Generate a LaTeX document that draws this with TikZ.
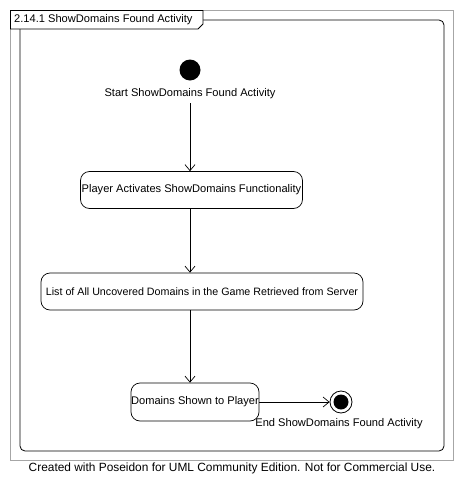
\documentclass[tikz,border=0pt]{standalone}
\usepackage{fontspec}
\setmainfont{Liberation Sans}
\usetikzlibrary{arrows.meta}
\begin{document}
\begin{tikzpicture}[x=1pt,y=-1pt,
  every node/.style={font=\fontsize{11.1}{13}\selectfont, inner sep=0pt},
  act/.style={draw, rounded corners=9pt, line width=0.7pt, minimum height=37pt, align=center, fill=white},
  flow/.style={line width=0.7pt, -{Straight Barb[length=6pt,width=10pt,line width=0.7pt]}},
  grayline/.style={draw=gray!70, line width=0.8pt}]
\useasboundingbox (0,0) rectangle (465,493);
% outer gray frame
\draw[grayline] (10.5,10.5) rectangle (453,460.5);
% inner rounded frame
\draw[line width=0.8pt, rounded corners=5pt] (20,20) rectangle (444,451);
% tab
\draw[line width=0.8pt, fill=white] (10.5,10.5) -- (203,10.5) -- (203,24) -- (198,29) -- (10.5,29) -- cycle;
\node[anchor=west] (title) at (14,19.5) {2.14.1 ShowDomains Found Activity};
% start
\node[circle, fill=black, minimum size=21pt] (start) at (190,70) {};
\node (startlbl) at (190,94) {Start ShowDomains Found Activity};
% activities
\node[act, minimum width=222pt] (a1) at (191.5,190) {Player Activates ShowDomains Functionality};
\node[act, minimum width=322pt, font=\fontsize{10.7}{12}\selectfont] (a2) at (202,291.5) {List of All Uncovered Domains in the Game Retrieved from Server};
\node[act, minimum width=128pt, minimum height=38pt] (a3) at (195,402) {Domains Shown to Player};
% end
\node[circle, draw, line width=0.8pt, minimum size=22pt] (end) at (341,402) {};
\node[circle, fill=black, minimum size=15pt] (endin) at (end.center) {};
\node (endlbl) at (339,423.5) {End ShowDomains Found Activity};
% flows
\coordinate (cx) at (190,0);
\coordinate (s1) at (190,103);
\draw[flow] (s1) -- (cx|-a1.north);
\draw[flow] (cx|-a1.south) -- (cx|-a2.north);
\draw[flow] (cx|-a2.south) -- (cx|-a3.north);
\draw[flow] (a3.east) -- (end.west);
% footer
\node[font=\fontsize{11.9}{14}\selectfont] (footer) at (232,468) {Created with Poseidon for UML Community Edition. Not for Commercial Use.};
\end{tikzpicture}
\end{document}
